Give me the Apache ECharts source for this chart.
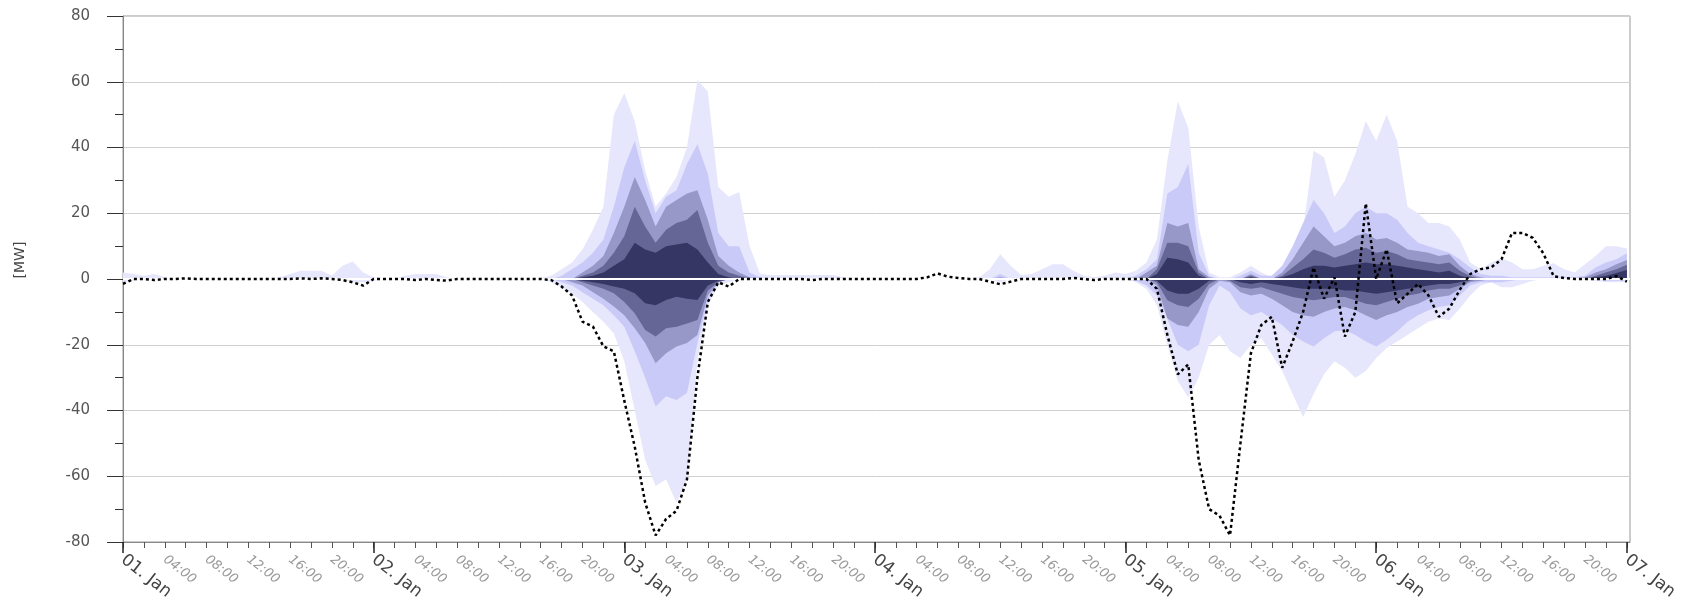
<!DOCTYPE html>
<html><head><meta charset="utf-8">
<script src="https://cdn.jsdelivr.net/npm/echarts@6/dist/echarts.min.js"></script>
<style>html,body{margin:0;padding:0;background:#fff}#c{width:1696px;height:607px}</style>
</head><body><div id="c"></div>
<script>
// ---- categories / tick labels ----
const DAY_LABELS = ['01. Jan','02. Jan','03. Jan','04. Jan','05. Jan','06. Jan','07. Jan'];
const TIME_LABELS = {4:'04:00', 8:'08:00', 12:'12:00', 16:'16:00', 20:'20:00'};
const Y_NAME = '[MW]';
// hour offsets from 01 Jan 00:00 (one value per hour)
const HOURS = Array.from({length: 145}, (_, i) => i);

// ---- quantile band envelopes (lightest -> darkest), positive side ----
const P1 = [
 2,1.5,1,1.5,0.5,0,0,0,0,0,0,0,0,0,0,0.5,1.5,2.5,2.5,2.5,1,4,5.3,2,
 0.5,0,0,1,1.5,1.5,1.5,0.5,0,0,0,0,0,0,0,0,0.3,1,3,5,9,15,22,50,
 56.5,48,33,22,26,31,40,60.5,57,28,25,26.5,10,1.5,1.2,1.2,1.2,1.2,1.2,1.2,1.2,0.5,0,0,
 0,0,0,0,0,0,0,0,0,0,0.5,3,7.5,4,1.2,1.5,3,4.5,4.5,2.5,1,0.5,1,2,
 1.5,2.5,5,12,36,54,46,16,2,0.5,0.5,2,4,2,0.5,3,8,15,39,37,25,30,38,48,
 42,50,42,22,20,17,17,16,12,5,3,5,6.3,5,3,3,4,4.8,3,2,4.5,7,10,10,9.3];
const P2 = [
 0,0,0,0,0,0,0,0,0,0,0,0,0,0,0,0,0,0,0,0,0,0,0,0,
 0,0,0,0,0,0,0,0,0,0,0,0,0,0,0,0,0,0,1,3,5,8,12,22,
 34,42,30,20,25,27,35,41,32,14,10,10,2,0.5,0,0,0,0,0,0,0,0,0,0,
 0,0,0,0,0,0,0,0,0,0,0,0,1.5,0,0,0,0,0,0,0,0,0,0,0,
 0,1,3,6,26,28,35,8,1,0,0,1,2.5,1,1,4,10,17,24,20,14,16,20,22,
 20,20,18,14,11,10,9,8,6,3.5,1.5,1,1,0.5,0.5,0.5,0.5,0.5,0.5,0.5,1,3.5,5,6,7.8];
const P3 = [
 0,0,0,0,0,0,0,0,0,0,0,0,0,0,0,0,0,0,0,0,0,0,0,0,
 0,0,0,0,0,0,0,0,0,0,0,0,0,0,0,0,0,0,0,0,2,4,7,14,
 22,31,24,16,22,24,26,27,18,7,4,2,0.5,0,0,0,0,0,0,0,0,0,0,0,
 0,0,0,0,0,0,0,0,0,0,0,0,0.5,0,0,0,0,0,0,0,0,0,0,0,
 0,0,2,4,17,16,17,3,0.5,0,0,0,1.5,0,0,2,6,11,16,13,10,11,13,14,
 12,12.5,11,9,8.5,8,7,7.5,4,1.5,0.5,0,0,0,0,0,0,0,0,0,0.5,2,3,4.5,5.8];
const P4 = [
 0,0,0,0,0,0,0,0,0,0,0,0,0,0,0,0,0,0,0,0,0,0,0,0,
 0,0,0,0,0,0,0,0,0,0,0,0,0,0,0,0,0,0,0,0,1,2,4,8,
 13,22,16,11,15,17,18,21,11,4,2,1,0,0,0,0,0,0,0,0,0,0,0,0,
 0,0,0,0,0,0,0,0,0,0,0,0,0,0,0,0,0,0,0,0,0,0,0,0,
 0,0,0,3,11,11,10,2,0,0,0,0,1,0,0,1,3.5,6,9,8,6.5,7.5,9,9.5,
 8,8.5,7.5,6,5.5,5,4.5,5,2.5,0.8,0,0,0,0,0,0,0,0,0,0,0,1,2,3,4.3];
const P5 = [
 0,0,0,0,0,0,0,0,0,0,0,0,0,0,0,0,0,0,0,0,0,0,0,0,
 0,0,0,0,0,0,0,0,0,0,0,0,0,0,0,0,0,0,0,0,0.5,1,2,4,
 6,11,9,8,10,10.5,11,9,5,1.5,0.5,0,0,0,0,0,0,0,0,0,0,0,0,0,
 0,0,0,0,0,0,0,0,0,0,0,0,0,0,0,0,0,0,0,0,0,0,0,0,
 0,0,0,1.5,6.5,6,5,1,0,0,0,0,0.5,0,0,0.5,1.5,3,4,4,3.5,4,4.5,5,
 4.5,4.5,4,3.5,3,2.5,2,2.5,1,0.3,0,0,0,0,0,0,0,0,0,0,0,0.5,1,1.8,2.7];

// ---- quantile band envelopes (lightest -> darkest), negative side ----
const N1 = [
 -1,-0.5,0,0,0,0,0,0,0,0,0,0,0,0,0,0,0,0,0,0,0,0,-1,-1,
 -0.5,0,0,0,0,0,0,0,0,0,0,0,0,0,0,0,0,-1,-2.5,-4.5,-7,-10,-13,-16.5,
 -25,-40,-55,-63,-61,-68,-61,-25,-8,-2,-1,0,0,0,0,0,0,0,0,0,0,0,0,0,
 0,0,0,0,0,0,0,0,0,0,0,0,-1,0,0,0,0,0,0,0,0,0,0,0,
 0,-1,-3,-8,-20,-31,-36,-30,-20,-17,-22,-24,-20,-18,-23,-28,-35,-42,-35,-29,-25,-27,-30,-28,
 -24,-21,-19,-17,-15,-13,-12,-12.5,-9,-5,-2,-1,-2.5,-2.5,-1.5,-0.5,0,0,0,0,0,-0.5,-1,-1,-1];
const N2 = [
 0,0,0,0,0,0,0,0,0,0,0,0,0,0,0,0,0,0,0,0,0,0,0,0,
 0,0,0,0,0,0,0,0,0,0,0,0,0,0,0,0,0,0,-1,-2,-4,-6,-8,-11,
 -14.5,-22,-30,-38.8,-35.7,-36.8,-34.7,-19.5,-6.5,-1,0,0,0,0,0,0,0,0,0,0,0,0,0,0,
 0,0,0,0,0,0,0,0,0,0,0,0,0,0,0,0,0,0,0,0,0,0,0,0,
 0,-0.5,-2,-5,-12,-20,-22,-20,-8,-2,-4,-9,-11,-10,-12,-14,-17,-19,-20.5,-18,-16,-15.5,-17,-19,
 -20.5,-18.5,-16,-13,-11,-9.5,-8.5,-8,-5,-2,-1,-1,-1,-0.5,0,0,0,0,0,0,0,0,-0.5,-0.5,-0.5];
const N3 = [
 0,0,0,0,0,0,0,0,0,0,0,0,0,0,0,0,0,0,0,0,0,0,0,0,
 0,0,0,0,0,0,0,0,0,0,0,0,0,0,0,0,0,0,0,-1,-2,-4,-6,-8.4,
 -11,-15,-19.5,-25.6,-22.6,-20.5,-19.5,-17,-5,-1,0,0,0,0,0,0,0,0,0,0,0,0,0,0,
 0,0,0,0,0,0,0,0,0,0,0,0,0,0,0,0,0,0,0,0,0,0,0,0,
 0,0,0,-2,-12,-14,-14.5,-10,-3,-0.5,-1,-4,-5,-4.5,-6,-8,-10,-11,-11.5,-10,-9,-8.5,-9.5,-11,
 -12.5,-11,-10,-8.5,-7.5,-6,-5.5,-5,-3,-1,-0.5,0,0,0,0,0,0,0,0,0,0,0,0,0,0];
const N4 = [
 0,0,0,0,0,0,0,0,0,0,0,0,0,0,0,0,0,0,0,0,0,0,0,0,
 0,0,0,0,0,0,0,0,0,0,0,0,0,0,0,0,0,0,0,0,-1,-2,-3,-4.3,
 -7,-10.4,-15.5,-17.5,-15,-14.5,-13.5,-12.5,-3.5,-1,0,0,0,0,0,0,0,0,0,0,0,0,0,0,
 0,0,0,0,0,0,0,0,0,0,0,0,0,0,0,0,0,0,0,0,0,0,0,0,
 0,0,0,-1,-6.5,-8,-8.5,-6,-1.5,0,-0.5,-2.5,-3,-2.5,-3.5,-4.5,-5.5,-6,-6.5,-6,-5.5,-5.5,-6.5,-7.5,
 -8,-7,-6,-5,-4.5,-3.5,-3,-3,-2,-0.5,0,0,0,0,0,0,0,0,0,0,0,0,0,0,0];
const N5 = [
 0,0,0,0,0,0,0,0,0,0,0,0,0,0,0,0,0,0,0,0,0,0,0,0,
 0,0,0,0,0,0,0,0,0,0,0,0,0,0,0,0,0,0,0,0,-0.5,-1,-1.5,-2.3,
 -3,-4.3,-7.4,-8,-6.4,-5.4,-6,-6.4,-2,-0.5,0,0,0,0,0,0,0,0,0,0,0,0,0,0,
 0,0,0,0,0,0,0,0,0,0,0,0,0,0,0,0,0,0,0,0,0,0,0,0,
 0,0,0,-0.5,-3.5,-4.5,-4.5,-3,-0.5,0,0,-1,-1.5,-1,-1.5,-2,-2.5,-3,-3,-3,-3,-3.5,-3.5,-4,
 -4.5,-4,-3.5,-3,-2.5,-2,-1.5,-1.5,-1,-0.3,0,0,0,0,0,0,0,0,0,0,0,0,0,0,0];

// ---- measured values (dotted line) ----
const MEASURED = [
 -1.5,0,0,-0.3,0,0,0.2,0,0,0,0,0,0,0,0,0,0,0.2,0,0.2,0,-0.3,-1,-2,
 0,0,0,0,-0.3,0,-0.3,-0.5,0,0,0,0,0,0,0,0,0,-0.3,-2.3,-5,-13,-14.5,-20.5,-22,
 -37,-51,-68,-78,-73,-70.5,-61,-30,-7,-1,-2.3,0,0,0,0,0,0,0,-0.3,0,0,0,0,0,
 0,0,0,0,0,0.5,1.7,0.7,0.3,0,0,-0.8,-1.6,-0.8,0,0,0,0,0,0.3,0,-0.3,0,0,
 0,0,0,-3,-17,-29,-26,-55,-70,-72,-78,-50,-22.6,-14,-11.5,-27,-19,-10,3.5,-6,0.5,-17.5,-10,23,
 0,9,-7.4,-4.5,-1.5,-5,-11.5,-9,-3.3,1.5,3,3.5,6,14,14,12.5,7.8,0.8,0.3,0,0,0,0,0.9,-0.8];

const BAND_COLORS = ['#e6e6fc','#cacaf8','#9898c8','#666696','#363664'];
const X_MAX = 144.3;

const pair = arr => HOURS.map((h, i) => [h, arr[i]]);
const bandSeries = (arr, idx) => ({
  type: 'line', data: pair(arr), showSymbol: false, symbol: 'none', silent: true,
  lineStyle: {width: 0, color: BAND_COLORS[idx]},
  areaStyle: {color: BAND_COLORS[idx], opacity: 1},
  z: 2 + idx * 0.01
});

const minorTicks = [], labelVals = [], dayTicks = [];
for (let h = 0; h <= 24 * (DAY_LABELS.length - 1); h += 2) {
  minorTicks.push(h);
  if (h % 4 === 0) labelVals.push(h);
  if (h % 24 === 0) dayTicks.push(h);
}

const chart = echarts.init(document.getElementById('c'), null, {renderer: 'canvas'});
chart.setOption({
  animation: false,
  backgroundColor: '#fff',
  grid: {left: 123, right: 66, top: 16, bottom: 65, show: true, borderColor: '#999', borderWidth: 1,
         containLabel: false, outerBoundsMode: 'none'},
  xAxis: [{
    type: 'value', min: 0, max: X_MAX,
    axisLine: {show: true, onZero: false, lineStyle: {color: '#888', width: 1}},
    axisTick: {show: true, customValues: minorTicks, length: 6, lineStyle: {color: '#555', width: 1}},
    axisLabel: {
      show: true, customValues: labelVals, rotate: -38, margin: 16, hideOverlap: false,
      formatter: v => {
        v = Math.round(v);
        if (v % 24 === 0) return '{d|' + DAY_LABELS[v / 24] + '}';
        return '{t|' + TIME_LABELS[v % 24] + '}';
      },
      rich: {
        d: {fontFamily: 'DejaVu Sans', fontSize: 17, color: '#444'},
        t: {fontFamily: 'DejaVu Sans', fontSize: 13, fontStyle: 'italic', color: '#999'}
      }
    },
    splitLine: {show: false}
  }, {
    type: 'value', min: 0, max: X_MAX, position: 'bottom',
    axisLine: {show: false, onZero: false},
    axisTick: {show: true, customValues: dayTicks, length: 11, lineStyle: {color: '#222', width: 1.5}},
    axisLabel: {show: false},
    splitLine: {show: false}
  }],
  yAxis: {
    type: 'value', min: -80, max: 80, interval: 20,
    axisLine: {show: true, onZero: false, lineStyle: {color: '#888', width: 1}},
    axisTick: {show: true, length: 16, lineStyle: {color: '#333'}},
    minorTick: {show: true, splitNumber: 2, length: 8, lineStyle: {color: '#333'}},
    axisLabel: {margin: 33, fontFamily: 'DejaVu Sans', fontSize: 15, color: '#555'},
    splitLine: {show: true, lineStyle: {color: '#d0d0d0', width: 1}},
    minorSplitLine: {show: false}
  },
  graphic: [{
    type: 'text', x: 20, y: 260, rotation: Math.PI / 2,
    style: {text: Y_NAME, fill: '#444', fontSize: 14, fontFamily: 'DejaVu Sans', align: 'center', verticalAlign: 'middle'}
  }],
  series: [
    bandSeries(P1, 0), bandSeries(P2, 1), bandSeries(P3, 2), bandSeries(P4, 3), bandSeries(P5, 4),
    bandSeries(N1, 0), bandSeries(N2, 1), bandSeries(N3, 2), bandSeries(N4, 3), bandSeries(N5, 4),
    {type: 'line', data: [[0, 0], [X_MAX, 0]], symbol: 'none', silent: true,
     lineStyle: {color: '#ffffff', width: 2}, z: 5},
    {type: 'line', data: pair(MEASURED), symbol: 'none', showSymbol: false, silent: true,
     lineStyle: {color: '#000', width: 2.5, type: [3, 3], cap: 'butt'}, z: 6}
  ]
});
</script>
</body></html>
